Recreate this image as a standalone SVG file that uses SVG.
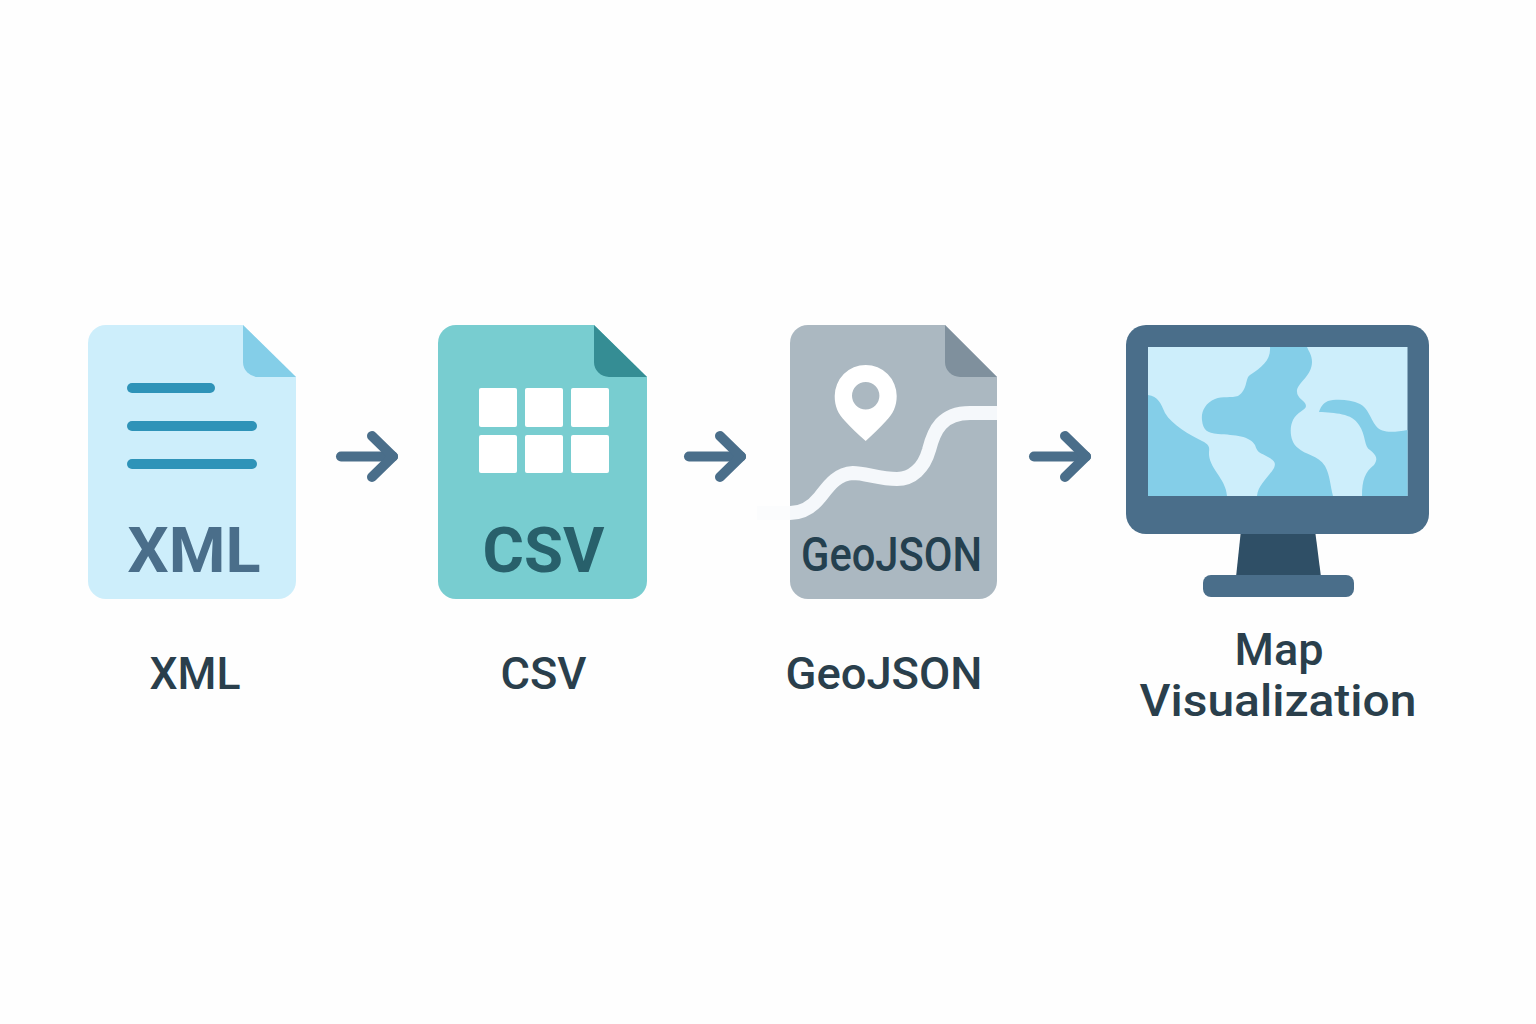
<svg xmlns="http://www.w3.org/2000/svg" width="1536" height="1024" viewBox="0 0 1536 1024">
<defs>
<style>
.lbl{font-family:Roboto,"Liberation Sans",sans-serif;font-size:45px;font-weight:500;fill:#2a3f4c;text-anchor:middle}
.doc{font-family:Roboto,"Liberation Sans",sans-serif;text-anchor:middle;font-weight:700}
.bar{fill:#2e93b8}
.cell{fill:#fff}
.conn{fill:none;stroke:#4a6e8a;stroke-width:10;stroke-linecap:round;marker-end:url(#arr)}
</style>
<marker id="arr" markerUnits="userSpaceOnUse" markerWidth="40" markerHeight="60" refX="28" refY="30" orient="auto">
<path d="M7,9.500 L28,30 L7,50.500" fill="none" stroke="#4a6e8a" stroke-width="10" stroke-linecap="round" stroke-linejoin="round"/>
</marker>
</defs>
<rect width="1536" height="1024" fill="#fefefe"/>
<g id="connectors">
<path class="conn" d="M341,456.500 H393"/>
<path class="conn" d="M689,456.500 H741"/>
<path class="conn" d="M1034,456.500 H1086"/>
</g>
<g id="node-xml">
<path d="M106,325 H243 L296,377 V581 a18,18 0 0 1 -18,18 H106 a18,18 0 0 1 -18,-18 V343 a18,18 0 0 1 18,-18 Z" fill="#cdeefb"/>
<path d="M243,325 L296,377 H258 a15,15 0 0 1 -15,-15 Z" fill="#84cee8"/>
<rect class="bar" x="127" y="383" width="88" height="10" rx="5"/>
<rect class="bar" x="127" y="421" width="130" height="10" rx="5"/>
<rect class="bar" x="127" y="459" width="130" height="10" rx="5"/>
<text class="doc" x="194" y="572" font-size="63" fill="#4a6e8a" textLength="133" lengthAdjust="spacingAndGlyphs">XML</text>
<text class="lbl" x="195" y="689" textLength="91" lengthAdjust="spacingAndGlyphs">XML</text>
</g>
<g id="node-csv">
<path d="M456,325 H594 L647,377 V581 a18,18 0 0 1 -18,18 H456 a18,18 0 0 1 -18,-18 V343 a18,18 0 0 1 18,-18 Z" fill="#78cdd0"/>
<path d="M594,325 L647,377 H609 a15,15 0 0 1 -15,-15 Z" fill="#358d94"/>
<rect class="cell" x="479" y="388" width="38" height="39" rx="2"/>
<rect class="cell" x="525" y="388" width="38" height="39" rx="2"/>
<rect class="cell" x="571" y="388" width="38" height="39" rx="2"/>
<rect class="cell" x="479" y="435" width="38" height="38" rx="2"/>
<rect class="cell" x="525" y="435" width="38" height="38" rx="2"/>
<rect class="cell" x="571" y="435" width="38" height="38" rx="2"/>
<text class="doc" x="543.500" y="572" font-size="63" fill="#28606b" textLength="122" lengthAdjust="spacingAndGlyphs">CSV</text>
<text class="lbl" x="543.500" y="689" textLength="86" lengthAdjust="spacingAndGlyphs">CSV</text>
</g>
<g id="node-geojson">
<path d="M757,513 H790" fill="none" stroke="#fbfcfd" stroke-width="14"/>
<path d="M808,325 H945 L997,377 V581 a18,18 0 0 1 -18,18 H808 a18,18 0 0 1 -18,-18 V343 a18,18 0 0 1 18,-18 Z" fill="#abb8c1"/>
<path d="M945,325 L997,377 H960 a15,15 0 0 1 -15,-15 Z" fill="#7f909d"/>
<path d="M790,513 C803,513 812,507 820,497 C828,487 836,474 853,473 C865,473 880,479 897,479 C912,479 924,468 929,450 C934,430 942,413 970,413 H997" fill="none" stroke="#f5f8fb" stroke-width="14"/>
<path fill-rule="evenodd" fill="#fff" d="M865.700,441 C858,434 851,428 845,421 C838,414 834.700,406 834.700,396 A31,31 0 0 1 896.700,396 C896.700,406 893,414 886,421 C880,428 873,434 865.700,441 Z M865.700,382 A13.700,13.700 0 1 0 865.700,409.400 A13.700,13.700 0 1 0 865.700,382 Z"/>
<text class="doc" x="891.500" y="571" font-size="48" fill="#24404f" textLength="181" lengthAdjust="spacingAndGlyphs" style="font-weight:500">GeoJSON</text>
<text class="lbl" x="884" y="689" textLength="197" lengthAdjust="spacingAndGlyphs">GeoJSON</text>
</g>
<g id="node-map">
<path d="M1241,530 H1315 L1321,577 H1236 Z" fill="#2f4f66"/>
<rect x="1126" y="325" width="303" height="209" rx="20" fill="#4a6e8a"/>
<rect x="1203" y="575" width="151" height="22" rx="8" fill="#4a6e8a"/>
<rect x="1148" y="347" width="259.500" height="149" fill="#cdeefb"/>
<path fill="#84cee8" d="M1148,395 C1158,396 1161,404 1165,413 C1172,425 1190,435 1202,441 C1208,444 1210,446 1209,452 C1208,468 1226,478 1227,496 H1148 Z"/>
<path fill="#84cee8" d="M1270,347 C1271,360 1262,367 1250,375 C1245,378 1248,390 1238,396 C1232,398 1222,396 1215,399 C1205,403 1201,412 1202,420 C1203,430 1207,433 1218,434 C1235,435 1250,436 1255,445 C1258,454 1260,452 1268,457 C1275,461 1276,463 1274,468 C1268,478 1258,485 1257,496 H1333 C1330,485 1330,475 1325,466 C1318,455 1305,455 1298,448 C1290,442 1289,428 1293,420 C1297,412 1306,410 1306,406 C1306,400 1296,399 1297,390 C1299,382 1312,375 1312,362 C1312,355 1309,352 1307,347 Z"/>
<path fill="#84cee8" d="M1407.500,430 C1395,432 1382,434 1376,426 C1370,418 1368,408 1360,404 C1350,399 1335,399 1328,401 C1323,403 1320,408 1319,412 C1335,413 1352,413 1359,425 C1366,435 1364,447 1370,450 C1377,456 1378,459 1374,465 C1365,472 1362,480 1362,496 H1407.500 Z"/>
<text class="lbl" x="1279" y="665" textLength="89" lengthAdjust="spacingAndGlyphs">Map</text>
<text class="lbl" x="1278" y="716" textLength="277" lengthAdjust="spacingAndGlyphs">Visualization</text>
</g>
</svg>
